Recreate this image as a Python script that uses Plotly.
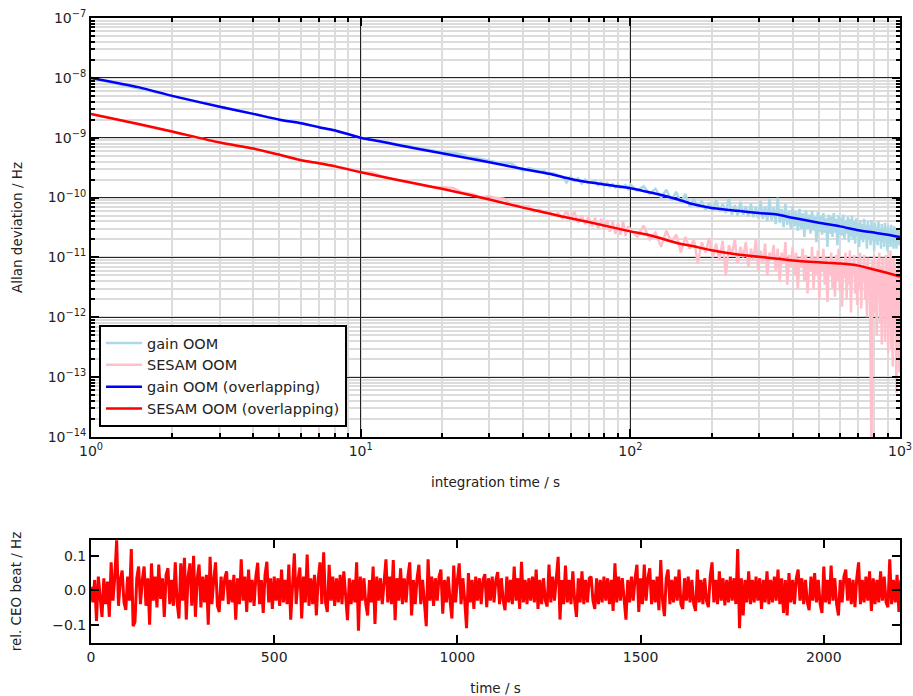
import plotly.graph_objects as go

# ---------------- Allan deviation data (values in units of 1e-12 Hz) ----------------
tau_overlapping = [1, 1.5, 2, 3, 4, 5, 6, 7, 8, 10, 11.76, 15, 20, 30, 40, 50, 60, 70, 99,
                   120, 150, 170, 200, 250, 300, 350, 400, 500, 600, 700, 800, 900, 1000]
gain_overlapping = [10000, 7000, 5000, 3300, 2500, 2000, 1750, 1500, 1330, 1000, 870, 700, 550,
                    390, 300, 250, 205, 180, 145,
                    120, 93, 78, 67, 60, 55, 52, 46, 38, 33, 28.5, 26, 24, 22]
sesam_overlapping = [2500, 1700, 1270, 830, 660, 520, 420, 375, 335, 265, 227, 182, 140,
                     93, 68, 54, 45, 39, 27.5,
                     23, 17.3, 15.5, 13.2, 11.2, 10.3, 9.5, 8.9, 8.3, 7.9, 7.3, 6.3, 5.5, 4.8]

tau_short = list(range(1, 20))
tau_mid = list(range(20, 100, 2))
tau_long = list(range(100, 1001, 6))
tau_nonoverlapping = tau_short + tau_mid + tau_long

gain_short = [10000, 5000, 3300, 2500, 2000, 1750, 1500, 1330, 1150, 1000,
              930, 860, 820, 780, 730, 690, 650, 620, 590]
gain_mid = [580, 560, 520, 470, 440, 420, 390, 385, 380, 320, 280, 310, 295, 270, 275, 250,
            255, 235, 225, 178, 222, 190, 210, 172, 200, 175, 180, 192, 162, 180, 158, 175,
            152, 168, 148, 165, 145, 152, 162, 140]
gain_long = [165, 130, 155, 115, 140, 100, 135, 90, 125, 82, 115, 70, 95, 68, 88, 62, 82, 60,
             90, 58, 78, 55, 98, 52, 75, 50, 85, 52, 72, 48, 80, 47, 70, 45, 88, 44, 72, 40,
             95, 42, 68, 36, 100, 38, 65, 32, 78, 35, 60, 30, 72, 33, 58, 28, 65, 30, 55, 22,
             62, 30, 52, 25, 60, 28, 48, 18, 58, 27, 50, 24, 55, 26, 45, 15, 52, 25, 48, 22,
             55, 26, 44, 16, 50, 24, 46, 23, 52, 20, 42, 25, 48, 18, 44, 22, 50, 20, 40, 17,
             45, 23, 38, 15, 42, 20, 36, 18, 44, 21, 35, 14, 40, 20, 34, 16, 42, 19, 33, 13,
             38, 18, 32, 16, 40, 19, 30, 14, 36, 18, 31, 15, 38, 19, 30, 13, 34, 17, 29, 15,
             35, 18, 28, 14, 33, 17, 27, 14, 31, 18, 26, 16, 30]
gain_nonoverlapping = gain_short + gain_mid + gain_long

sesam_short = [2500, 1270, 830, 660, 520, 420, 375, 335, 300, 265,
               262, 225, 205, 190, 180, 170, 160, 150, 145]
sesam_mid = [150, 145, 120, 115, 100, 105, 98, 96, 78, 75, 70, 72, 58, 63, 55, 58, 50, 55,
             45, 60, 42, 58, 38, 50, 36, 48, 33, 46, 31, 44, 29, 42, 27, 40, 25, 37, 24, 40,
             23, 33]
sesam_long = [30, 22, 34, 20, 26, 15, 28, 18, 24, 12, 22, 14, 20, 8, 18, 12, 21, 10, 17, 9,
              19, 5, 16, 11, 20, 8, 15, 10, 18, 7, 14, 9, 20, 6, 13, 8, 17, 5, 12, 9, 16, 6,
              14, 4, 12, 8, 18, 3.5, 11, 7, 15, 5, 12, 3, 10, 7, 14, 4, 11, 2.5, 9, 6, 15, 3,
              10, 5, 13, 2, 9, 6, 14, 3.5, 10, 1.8, 8, 5, 12, 3, 9, 2.2, 11, 4, 14, 2.8, 9,
              1.5, 8, 4.5, 12, 2, 9, 3.5, 13, 1.2, 8, 5, 11, 2.5, 7, 1.6, 10, 3, 12, 1.4, 7,
              4, 11, 2, 8, 1.0, 10, 3, 7, 0.3, 0.004, 9, 2, 11, 1.2, 6, 0.5, 9, 2.5, 12, 0.8,
              7, 0.35, 10, 1.5, 6, 0.4, 11, 0.9, 8, 0.25, 9, 1.1, 13, 0.3, 7, 0.15, 10, 0.6,
              8, 0.2, 0.055, 6, 0.4, 9, 0.12, 5]
sesam_nonoverlapping = sesam_short + sesam_mid + sesam_long

# ---------------- CEO beat time series (values in mHz) ----------------
time_s = list(range(0, 2215, 5))
ceo_beat_mHz = [
    10, -35, 30, -89, 40, -20, -77, 35, -40, 25, -77, 81, -30, 40, 145, -45, 30, 57, -35, -57,
    40, -30, 120, -104, -92, 35, 69, -40, 30, 69, -45, 35, -100, 78, -30, 40, -50, 75, -25, 35,
    -77, 45, 64, -40, 30, -45, 81, -35, -82, 78, -30, 94, -85, 40, 78, -45, 100, -77, 35, 75,
    -50, 40, -35, 45, -100, 97, -40, 30, 81, -45, -63, 40, -30, 35, 55, -40, 30, -35, 45, -85,
    35, -40, 90, -30, 40, -63, 60, -35, 30, -45, 40, 80, -40, 30, -66, 45, 83, -35, 35, -54,
    40, -30, 35, -45, 60, -35, 30, -40, 75, -85, 35, 107, -40, 30, 66, -82, 40, -35, 104, -45,
    35, -40, 45, -73, 30, 81, -40, 110, -35, -63, 74, -30, 40, -45, 35, -35, 45, -40, 55, -30,
    -87, 35, -40, 30, -35, 81, -117, 40, -30, 35, -40, -73, 30, -35, 69, -98, 40, -30, 35, -40,
    30, 90, -35, 40, -40, 88, -87, 35, -30, 64, -40, 35, -35, 40, 81, -73, 30, -40, 35, 74,
    -40, 30, -35, -104, 90, -30, 40, -45, 35, -30, 40, 60, -68, 30, -35, 40, -30, -82, 72, -35,
    30, 78, -40, 35, -30, -110, 50, -35, 30, -54, 40, -30, 35, -40, 30, 47, -49, 35, -30, 40,
    -35, 30, 53, -40, 35, -30, -58, 40, -35, 30, -40, 69, -30, 35, -54, 83, -35, 30, -40, 35,
    -30, 40, -35, 60, -54, 30, -40, 35, -30, -47, 75, -35, 40, -30, 35, 97, -85, 30, -40, 72,
    -35, 30, -40, 55, -30, -77, 35, -35, 55, -40, 30, -35, 35, 40, -30, -54, 35, -40, 30, -35,
    40, -30, 35, -40, 30, -60, 78, -35, 40, -30, 35, -40, -85, 30, -35, 40, -30, 35, 74, -63,
    35, -40, 75, -30, 35, 64, -40, 30, -35, 40, -58, 88, -30, -75, 35, 60, -40, 30, -35, 40,
    -30, 60, -40, -54, 35, -30, 40, -35, 30, -40, -60, 60, -35, 30, -40, 35, -30, -49, 40, 81,
    -35, 30, -40, 55, -30, 35, -44, 30, -35, 40, -30, 35, -40, 120, -110, 35, -73, 30, -35, 55,
    -40, 30, -35, 40, -30, 35, -54, 30, -35, 55, -40, 30, -35, 40, -30, 60, -40, 35, -66, 30,
    -73, 50, -35, 30, -40, 35, 60, -30, 35, -40, 30, -35, -58, 40, -30, 50, -35, 30, -40, -66,
    69, -35, 30, -40, 72, -30, 35, -40, -73, 30, -35, 40, 60, -30, 35, -40, 30, -49, 35, 81,
    -40, 30, -35, 40, -30, 55, -60, 35, -40, 30, -35, 55, -30, 40, -35, -49, 90, -40, 30, -35,
    45, -63, 30,
]

x_ticks_top = [1, 10, 100, 1000]
x_ticktext_top = ["10<sup>0</sup>", "10<sup>1</sup>", "10<sup>2</sup>", "10<sup>3</sup>"]
y_ticks_top = [1e-14, 1e-13, 1e-12, 1e-11, 1e-10, 1e-9, 1e-8, 1e-7]
y_ticktext_top = ["10<sup>\u221214</sup>", "10<sup>\u221213</sup>", "10<sup>\u221212</sup>",
                  "10<sup>\u221211</sup>", "10<sup>\u221210</sup>", "10<sup>\u22129</sup>",
                  "10<sup>\u22128</sup>", "10<sup>\u22127</sup>"]

scale = 1e-12
fig = go.Figure()
fig.add_trace(go.Scatter(x=tau_nonoverlapping, y=[v * scale for v in gain_nonoverlapping],
                         mode="lines", name="gain OOM", line=dict(color="#add8e6", width=2.5),
                         xaxis="x", yaxis="y"))
fig.add_trace(go.Scatter(x=tau_nonoverlapping, y=[v * scale for v in sesam_nonoverlapping],
                         mode="lines", name="SESAM OOM", line=dict(color="#ffc0cb", width=2.5),
                         xaxis="x", yaxis="y"))
fig.add_trace(go.Scatter(x=tau_overlapping, y=[v * scale for v in gain_overlapping],
                         mode="lines", name="gain OOM (overlapping)",
                         line=dict(color="#0000ff", width=2.5, shape="spline", smoothing=0.6),
                         xaxis="x", yaxis="y"))
fig.add_trace(go.Scatter(x=tau_overlapping, y=[v * scale for v in sesam_overlapping],
                         mode="lines", name="SESAM OOM (overlapping)",
                         line=dict(color="#ff0000", width=2.5, shape="spline", smoothing=0.6),
                         xaxis="x", yaxis="y"))
fig.add_trace(go.Scatter(x=time_s, y=[v / 1000 for v in ceo_beat_mHz], mode="lines",
                         showlegend=False, line=dict(color="#ff0000", width=3),
                         xaxis="x2", yaxis="y2"))

title_font = dict(family="DejaVu Sans", size=13.5, color="#222")
axis_common = dict(showline=True, linewidth=2, linecolor="black", mirror="allticks",
                   ticks="inside", tickcolor="black", tickwidth=1.5, zeroline=False,
                   automargin=False,
                   tickfont=dict(family="DejaVu Sans", size=14, color="#222"))

fig.update_layout(
    width=913, height=696,
    margin=dict(l=91, r=13, t=18, b=53),
    paper_bgcolor="white", plot_bgcolor="white",
    font=dict(family="DejaVu Sans", size=13, color="#222"),
    showlegend=True,
    legend=dict(x=0.0099, y=0.3456, xanchor="left", yanchor="bottom",
                bgcolor="white", bordercolor="black", borderwidth=2,
                font=dict(family="DejaVu Sans", size=14.5, color="#222"),
                tracegroupgap=0, itemwidth=36),
    xaxis=dict(axis_common, type="log", range=[0, 3], domain=[0, 1], anchor="y",
               tickvals=x_ticks_top, ticktext=x_ticktext_top, ticklen=8,
               showgrid=True, gridcolor="#222", gridwidth=1,
               minor=dict(ticks="inside", ticklen=4, tickcolor="black", dtick="D1",
                          showgrid=True, gridcolor="#dcdcdc", gridwidth=1.5),
               title=dict(text="integration time / s", standoff=20, font=title_font)),
    yaxis=dict(axis_common, type="log", range=[-14, -7], domain=[0.3296, 1], anchor="x",
               tickvals=y_ticks_top, ticktext=y_ticktext_top, ticklen=8,
               showgrid=True, gridcolor="#222", gridwidth=1,
               minor=dict(ticks="inside", ticklen=4, tickcolor="black", dtick="D1",
                          showgrid=True, gridcolor="#dcdcdc", gridwidth=1.5),
               title=dict(text="Allan deviation / Hz", standoff=22, font=title_font)),
    xaxis2=dict(axis_common, range=[0, 2208], domain=[0, 1], anchor="y2",
                dtick=500, tick0=0, ticklen=8, showgrid=False,
                title=dict(text="time / s", standoff=24, font=title_font)),
    yaxis2=dict(axis_common, range=[-0.153, 0.146], domain=[0, 0.1648], anchor="x2",
                tickvals=[-0.1, 0.0, 0.1], tickformat=".1f", ticklen=8, showgrid=False,
                title=dict(text="rel. CEO beat / Hz", standoff=27, font=title_font)),
)

fig.write_html("out.html", config={"displayModeBar": False},
               post_script="document.body.style.margin='0';document.body.style.overflow='hidden';")
